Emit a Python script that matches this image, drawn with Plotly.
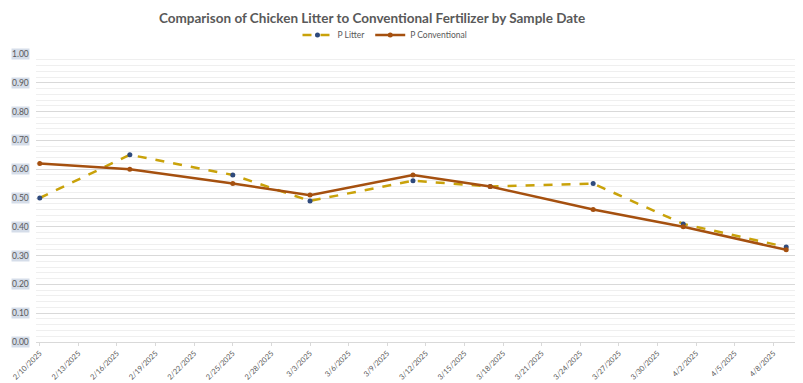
import plotly.graph_objects as go

dates = ["2025-02-10", "2025-02-17", "2025-02-25", "2025-03-03", "2025-03-11",
         "2025-03-17", "2025-03-25", "2025-04-01", "2025-04-09"]
p_litter = [0.50, 0.65, 0.58, 0.49, 0.56, 0.54, 0.55, 0.41, 0.33]
p_conventional = [0.62, 0.60, 0.55, 0.51, 0.58, 0.54, 0.46, 0.40, 0.32]

x_ticks = ["2025-02-10", "2025-02-13", "2025-02-16", "2025-02-19", "2025-02-22",
           "2025-02-25", "2025-02-28", "2025-03-03", "2025-03-06", "2025-03-09",
           "2025-03-12", "2025-03-15", "2025-03-18", "2025-03-21", "2025-03-24",
           "2025-03-27", "2025-03-30", "2025-04-02", "2025-04-05", "2025-04-08"]
x_tick_labels = ["2/10/2025", "2/13/2025", "2/16/2025", "2/19/2025", "2/22/2025",
                 "2/25/2025", "2/28/2025", "3/3/2025", "3/6/2025", "3/9/2025",
                 "3/12/2025", "3/15/2025", "3/18/2025", "3/21/2025", "3/24/2025",
                 "3/27/2025", "3/30/2025", "4/2/2025", "4/5/2025", "4/8/2025"]
y_ticks = [0.0, 0.1, 0.2, 0.3, 0.4, 0.5, 0.6, 0.7, 0.8, 0.9, 1.0]
y_tick_labels = ["0.00", "0.10", "0.20", "0.30", "0.40", "0.50", "0.60", "0.70", "0.80", "0.90", "1.00"]

FONT = "Lato"
TXT = "#595959"

fig = go.Figure()
fig.add_trace(go.Scatter(
    x=dates, y=p_litter, name="P Litter", mode="lines+markers",
    line=dict(color="#C9A20A", width=2.5, dash="dash"),
    marker=dict(color="#2E4A7D", size=5),
))
fig.add_trace(go.Scatter(
    x=dates, y=p_conventional, name="P Conventional", mode="lines+markers",
    line=dict(color="#A5500F", width=2.5),
    marker=dict(color="#A5500F", size=5),
))

for v, t in zip(y_ticks, y_tick_labels):
    fig.add_annotation(
        xref="paper", yref="y", x=0, y=v, text=t, showarrow=False,
        xanchor="right", yanchor="middle", xshift=-6,
        font=dict(family=FONT, size=8.5, color=TXT),
        bgcolor="#D5DDE9", borderpad=0,
    )

# The page places the figure 8px from the top-left corner, so the figure is
# sized 795x375 and its margins are measured from that origin.
fig.update_layout(
    width=795, height=375,
    margin=dict(l=28, r=5, t=46, b=41, autoexpand=False),
    paper_bgcolor="white", plot_bgcolor="white",
    title=dict(text="<b>Comparison of Chicken Litter to Conventional Fertilizer by Sample Date</b>",
               x=0.458, xanchor="center", yref="container", y=0.985, yanchor="top",
               font=dict(family=FONT, size=13.5, color=TXT)),
    legend=dict(orientation="h", x=0.458, xanchor="center",
                yref="container", y=0.928, yanchor="middle",
                font=dict(family=FONT, size=8.5, color=TXT), bgcolor="rgba(0,0,0,0)"),
    showlegend=True,
)
fig.update_xaxes(
    type="date", range=["2025-02-09 17:00", "2025-04-09 22:00"],
    tickmode="array", tickvals=x_ticks, ticktext=x_tick_labels, tickangle=-45,
    tickfont=dict(family=FONT, size=7.5, color=TXT), automargin=False,
    ticklabeloverflow="allow",
    showgrid=False, showline=True, linecolor="#D9D9D9", linewidth=1,
    ticks="outside", ticklen=3, tickcolor="#D9D9D9", zeroline=False,
)
fig.update_yaxes(
    range=[0, 1.0], tickmode="array", tickvals=y_ticks, showticklabels=False,
    showgrid=True, gridcolor="#D9D9D9", gridwidth=1, zeroline=False,
    minor=dict(dtick=0.02, showgrid=True, gridcolor="#EFEFEF", gridwidth=1),
    showline=False, automargin=False,
)

fig.write_html("out.html")
